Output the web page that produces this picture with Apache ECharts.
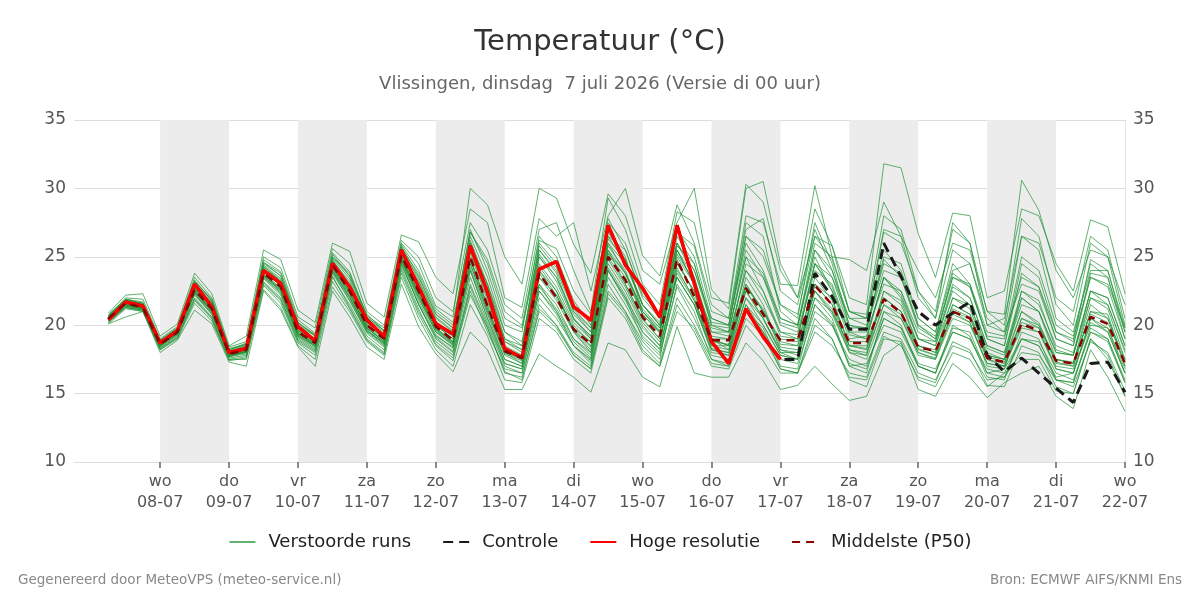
<!DOCTYPE html>
<html><head><meta charset="utf-8">
<script src="https://cdn.jsdelivr.net/npm/echarts@6/dist/echarts.min.js"></script>
<style>html,body{margin:0;padding:0;background:#fff}#c{width:1200px;height:600px}</style>
</head><body><div id="c"></div>
<script>
// Time grid: days relative to 08-07 00:00, 6-hourly samples starting 07-07 06:00
const startDay = -0.75;
const stepDays = 0.25;
const tickDays = [0,1,2,3,4,5,6,7,8,9,10,11,12,13,14];
const tickLabels = ['wo\n08-07','do\n09-07','vr\n10-07','za\n11-07','zo\n12-07','ma\n13-07','di\n14-07','wo\n15-07','do\n16-07','vr\n17-07','za\n18-07','zo\n19-07','ma\n20-07','di\n21-07','wo\n22-07'];
const shadedDays = [[0,1],[2,3],[4,5],[6,7],[8,9],[10,11],[12,13]];

const hogeResolutie = [20.4,21.7,21.4,18.7,19.6,23.0,21.35,18.0,18.3,24.0,23.05,19.9,18.85,24.5,22.8,20.4,19.15,25.5,22.8,20.1,19.35,25.8,22.4,18.3,17.6,24.1,24.65,21.35,20.35,27.3,24.4,22.7,20.6,27.3,23.05,18.8,17.2,21.2,19.15,17.5];
const controle = [20.4,21.7,21.4,18.7,19.6,23.0,21.35,18.0,18.3,24.0,23.05,19.9,18.85,24.5,22.8,20.4,19.15,25.5,22.8,20.1,19.35,25.8,22.4,18.3,17.6,24.1,24.65,21.35,20.35,27.3,24.4,22.7,20.6,27.3,23.05,18.8,17.2,21.2,19.15,17.5,17.5,23.8,22.1,19.7,19.7,26.0,23.55,21.0,20.0,20.9,21.7,17.8,16.6,17.6,16.5,15.4,14.35,17.2,17.3,15.1];
const middelste = [20.5,21.6,21.3,18.6,19.5,22.6,21.2,17.9,18.2,23.8,22.8,19.5,18.7,24.4,22.5,20.0,19.0,25.1,22.5,19.9,18.9,25.0,21.4,18.1,17.6,23.8,22.0,19.7,18.6,25.0,23.3,20.6,19.2,24.8,22.1,18.9,18.9,22.7,20.8,18.9,18.9,22.9,21.5,18.7,18.7,21.9,20.9,18.4,18.1,21.0,20.5,17.6,17.3,20.1,19.6,17.4,17.2,20.6,20.1,17.2];

const ens01 = [20.8,21.9,21.6,18.9,19.8,23.2,21.9,18.3,18.6,24.6,23.8,20.2,19.3,25.2,23.6,20.8,19.6,26.0,24.5,21.4,20.6,30.0,28.8,25.0,23.0,30.0,29.3,25.9,23.8,29.6,28.0,24.0,23.0,27.5,30.0,22.6,21.2,30.0,30.5,24.5,22.0,26.5,25.8,22.0,21.5,31.8,31.5,26.7,23.5,28.2,28.0,22.0,22.5,28.5,28.0,24.5,22.5,27.7,27.2,22.3];
const ens02 = [20.9,22.2,22.3,19.2,20.1,23.8,22.3,18.5,19.2,25.5,24.8,21.1,20.2,26.0,25.4,21.6,20.6,26.6,26.1,23.5,22.3,28.5,27.5,22.0,21.3,27.8,26.5,27.5,22.5,28.0,30.0,25.1,23.6,28.8,26.0,21.5,20.5,28.0,27.5,23.0,22.9,30.2,25.0,24.8,24.0,29.0,26.5,24.0,22.0,26.0,25.5,21.0,20.8,30.6,28.4,24.0,22.0,25.5,25.0,21.5];
const ens03 = [20.7,22.0,21.9,19.0,19.9,23.5,22.0,18.4,18.8,25.0,24.2,20.6,19.8,25.6,24.5,21.0,20.0,26.2,25.0,22.0,21.0,27.5,25.5,21.5,20.5,27.0,27.5,24.0,21.0,29.3,27.0,23.0,21.5,28.3,27.5,22.0,21.6,30.3,29.0,24.0,22.0,28.5,25.8,21.0,20.5,26.8,26.0,22.5,20.5,27.5,26.0,20.0,20.5,26.5,26.0,22.0,21.0,26.5,25.5,20.5];
const ens04 = [20.6,21.8,21.5,18.8,19.7,23.0,21.5,18.1,18.5,24.5,23.6,20.2,19.2,25.0,23.8,20.6,19.6,25.8,23.6,20.8,19.8,27.0,24.0,20.0,19.5,26.5,25.0,21.8,20.0,27.5,26.0,22.5,20.5,27.0,25.0,20.5,20.0,26.5,25.0,21.5,20.5,27.5,24.5,20.0,19.8,25.0,24.5,20.5,19.5,24.5,23.0,19.5,19.2,23.5,22.8,19.5,19.0,23.5,23.0,19.8];
const ens05 = [20.4,21.5,21.2,18.5,19.5,22.4,21.0,17.8,18.2,23.6,22.6,19.5,18.8,24.6,22.8,20.2,19.3,25.4,22.8,20.0,19.2,26.0,22.5,18.8,18.0,25.0,23.5,20.5,19.2,26.5,24.5,21.5,20.0,26.0,23.5,19.5,19.5,25.0,22.5,19.5,19.0,24.5,22.5,19.0,19.2,23.5,22.0,19.0,18.8,23.0,22.0,18.5,18.0,22.0,21.0,18.0,17.8,22.5,22.0,18.5];
const ens06 = [20.5,21.6,21.4,18.6,19.4,22.8,21.3,17.9,18.0,24.0,22.9,19.2,18.5,24.2,22.3,19.8,18.8,24.8,22.0,19.5,18.6,24.5,21.0,18.0,17.5,23.5,21.8,19.5,18.2,25.5,23.0,20.5,19.0,24.5,22.5,19.0,18.5,23.0,21.0,18.8,18.5,23.5,21.8,18.5,18.2,22.5,21.5,18.5,18.0,21.5,20.8,17.8,17.5,21.0,20.0,17.5,17.2,21.5,20.5,17.5];
const ens07 = [20.3,21.4,21.1,18.4,19.3,22.2,20.8,17.7,18.0,23.2,22.0,19.0,18.2,23.8,21.8,19.5,18.5,24.5,21.5,19.2,18.4,24.0,20.5,17.5,17.0,23.0,21.5,19.0,17.8,24.5,22.5,20.0,18.5,23.5,21.5,18.2,18.0,22.0,20.5,18.0,18.0,22.0,21.0,18.0,17.5,21.0,20.5,18.0,17.5,20.5,20.0,17.2,17.0,20.0,19.5,17.0,16.8,20.0,19.8,16.8];
const ens08 = [20.6,21.7,21.5,18.7,19.6,22.9,21.6,18.0,18.4,24.2,23.2,19.8,19.0,24.8,23.0,20.4,19.3,25.2,23.2,20.5,19.5,25.8,22.2,18.5,17.8,24.5,22.8,20.2,19.0,25.8,24.0,21.0,19.5,25.5,23.0,19.2,19.0,24.0,22.0,19.5,19.3,24.0,23.0,19.5,19.5,23.0,22.5,19.5,18.8,22.5,21.5,18.3,17.8,21.5,21.0,18.0,17.8,22.0,21.5,18.2];
const ens09 = [20.2,21.3,21.0,18.3,19.2,22.0,20.6,17.6,17.8,23.0,21.8,18.8,18.0,23.5,21.5,19.2,18.2,24.0,21.0,18.8,17.8,23.0,20.0,17.0,16.5,22.0,20.5,18.5,17.2,23.5,21.5,19.2,18.0,22.8,20.5,17.8,17.5,21.0,19.5,17.5,17.2,21.0,20.0,17.5,17.0,20.5,19.8,17.2,16.8,19.5,19.0,16.8,16.5,19.0,18.8,16.5,16.0,19.5,19.0,16.0];
const ens10 = [20.1,21.2,21.0,18.2,19.0,21.6,20.3,17.5,17.5,22.6,21.3,18.5,17.5,22.8,21.0,18.8,17.8,23.5,20.5,18.2,17.0,21.5,19.2,16.0,15.8,20.5,19.5,17.5,16.5,22.0,20.5,18.0,17.0,21.5,19.5,17.0,16.8,20.0,18.5,16.5,16.5,19.5,18.5,16.5,16.2,19.5,19.0,16.5,16.0,18.5,18.0,16.0,16.2,18.0,17.8,16.0,15.5,18.8,18.0,15.2];
const ens11 = [20.1,20.6,21.0,18.0,18.9,21.1,20.1,17.3,17.0,22.5,21.1,18.4,17.0,22.5,20.6,18.4,17.5,23.0,19.9,17.9,16.6,19.5,18.2,15.3,15.3,17.9,17.0,16.2,15.1,18.7,18.2,16.2,15.5,19.9,16.5,16.2,16.2,18.7,17.4,15.3,15.6,17.0,15.7,14.5,14.8,17.8,18.7,15.3,14.8,17.2,16.2,14.7,15.8,16.5,17.0,14.8,13.9,18.2,16.2,13.7];
const ens12 = [20.5,21.5,21.3,18.6,19.5,22.5,21.2,17.9,18.3,23.9,22.9,19.6,18.8,24.3,22.6,20.0,19.1,25.0,22.8,20.2,19.3,26.5,23.5,19.5,18.5,26.0,24.5,21.0,19.5,27.0,25.0,21.0,19.8,23.5,21.5,18.0,17.8,21.5,20.0,17.8,17.5,22.0,20.5,17.0,17.2,20.0,19.5,17.0,16.5,19.8,19.5,16.5,16.8,19.0,18.5,16.2,16.5,20.5,19.5,16.5];
const ens13 = [20.4,21.6,21.2,18.5,19.4,22.7,21.1,17.8,18.1,23.7,22.7,19.4,18.6,24.0,22.0,19.6,18.6,24.6,21.5,19.0,18.0,22.5,19.5,16.8,16.5,21.5,20.0,18.0,17.0,23.0,21.0,18.8,17.5,24.0,22.0,18.5,18.5,24.5,23.5,20.5,20.0,25.5,23.5,20.5,20.5,25.5,24.0,20.5,19.5,24.0,24.5,20.0,19.5,23.0,22.5,19.0,18.5,23.8,23.5,19.0];
const ens14 = [20.7,21.8,21.6,18.8,19.7,23.1,21.7,18.2,18.6,24.4,23.4,20.0,19.2,24.9,23.4,20.5,19.5,25.5,23.5,20.8,19.8,26.2,23.0,19.5,18.8,25.2,23.5,20.8,19.5,26.0,24.5,21.5,20.0,26.5,24.5,20.0,19.8,27.5,26.5,21.0,20.0,25.0,22.5,19.5,19.0,23.5,22.5,19.0,18.5,22.0,21.5,18.0,17.5,22.5,21.5,18.5,18.0,22.5,22.0,18.5];
const ens15 = [20.3,21.4,21.2,18.5,19.4,22.3,20.9,17.7,18.1,23.5,22.3,19.2,18.4,24.0,22.0,19.6,18.7,24.8,22.0,19.5,18.5,24.8,21.5,18.0,17.2,24.0,22.5,19.5,18.0,24.0,22.0,19.8,18.5,25.5,23.5,19.0,18.2,23.5,21.5,18.2,17.8,23.0,22.0,18.5,18.5,22.0,21.0,18.2,17.8,21.0,20.5,17.5,17.0,20.5,20.0,17.2,17.0,21.0,20.8,17.0];
const ens16 = [20.6,21.7,21.4,18.6,19.6,22.8,21.4,18.0,18.3,24.1,23.0,19.7,18.9,24.6,22.8,20.2,19.2,25.3,22.6,20.0,19.0,25.5,22.0,18.3,17.8,24.0,22.2,19.8,18.8,25.2,23.5,20.8,19.4,24.8,22.3,19.0,19.0,23.0,21.0,19.0,18.8,23.0,21.5,18.8,18.8,22.0,21.0,18.5,18.2,21.2,20.6,17.7,17.3,20.2,19.8,17.5,17.3,20.8,20.2,17.3];
const ens17 = [20.5,21.5,21.3,18.7,19.5,22.6,21.1,17.9,18.2,23.8,22.7,19.4,18.7,24.4,22.5,19.9,18.9,25.0,22.4,19.8,18.8,25.0,21.3,18.0,17.6,23.8,22.0,19.7,18.5,26.5,25.5,22.0,20.5,26.0,24.0,20.5,20.0,26.0,24.0,20.5,20.0,26.0,25.0,21.0,20.5,27.0,26.5,22.0,20.5,25.5,24.5,20.5,19.5,26.5,25.5,20.5,19.5,24.0,24.0,19.5];
const ens18 = [20.4,21.5,21.2,18.5,19.4,22.4,21.0,17.8,18.0,23.5,22.4,19.3,18.5,24.2,22.2,19.7,18.7,24.8,22.2,19.6,18.6,24.5,21.0,17.8,17.2,23.0,21.0,18.5,17.5,24.0,22.0,19.0,17.8,23.0,21.0,17.5,17.0,21.5,19.5,16.8,16.5,20.0,19.0,16.0,15.5,19.0,18.8,16.0,15.5,18.0,17.5,15.5,16.5,17.5,17.5,15.2,15.0,19.0,17.5,14.8];
const ens19 = [20.6,21.8,21.5,18.7,19.6,22.9,21.5,18.1,18.4,24.3,23.3,19.9,19.0,24.7,23.2,20.3,19.4,25.6,23.8,21.0,20.0,26.8,24.5,20.5,19.8,25.5,24.0,21.0,19.8,26.0,23.8,20.8,19.5,25.0,23.0,19.8,19.5,25.5,23.5,20.0,19.5,24.5,23.5,19.8,19.8,24.0,23.5,20.0,19.2,23.5,23.0,19.0,18.5,24.5,23.5,19.5,18.8,24.8,24.0,19.8];
const ens20 = [20.4,21.6,21.3,18.6,19.5,22.5,21.0,17.8,18.1,23.6,22.5,19.4,18.6,24.3,22.4,19.8,18.8,25.0,22.2,19.7,18.7,24.2,20.8,17.5,17.0,22.8,21.2,19.0,18.0,24.8,22.8,20.2,18.8,24.2,21.8,18.5,18.2,22.5,20.5,18.2,18.0,22.5,20.8,18.0,17.8,21.5,20.5,17.8,17.5,20.8,20.2,17.2,17.0,19.8,19.5,16.8,16.5,20.2,19.5,16.5];
const ens21 = [20.6,21.9,21.7,18.9,19.8,23.3,21.8,18.2,18.7,24.8,23.9,20.4,19.4,25.3,23.9,20.7,19.8,25.9,24.0,21.2,20.2,26.8,24.8,21.0,20.0,26.2,25.6,22.5,20.8,27.8,25.5,22.2,20.8,26.8,25.8,21.0,20.5,27.0,27.8,22.5,21.5,27.0,24.0,20.5,20.0,24.5,23.8,20.0,19.0,23.8,22.8,19.2,19.0,25.0,24.0,20.0,19.2,24.5,23.5,19.5];
const ens22 = [20.3,21.3,21.1,18.3,19.1,21.9,20.5,17.5,17.7,23.1,21.9,18.9,18.1,23.6,21.3,19.0,18.0,24.2,21.2,18.6,17.6,22.2,19.8,16.5,16.2,21.0,19.8,17.8,16.8,22.5,21.0,18.5,17.2,22.0,20.0,17.5,17.2,21.0,19.8,17.0,16.8,21.5,20.2,17.0,16.5,21.0,20.0,17.0,16.5,20.0,19.2,16.2,16.0,19.5,19.0,16.0,15.8,19.8,19.0,15.8];
const ens23 = [20.5,21.7,21.4,18.6,19.5,22.7,21.3,17.9,18.3,23.9,22.9,19.6,18.7,24.5,22.7,20.1,19.0,25.0,22.5,19.8,18.8,25.3,21.8,18.2,17.5,24.3,22.5,20.0,18.7,25.0,23.0,20.4,19.0,24.5,22.5,18.8,18.6,22.8,21.2,18.6,18.5,22.5,21.0,18.5,18.3,22.0,21.0,18.3,17.8,21.5,20.8,17.5,17.2,21.0,20.2,17.3,17.0,21.0,20.5,17.0];
const ens24 = [20.4,21.6,21.3,18.6,19.5,22.6,21.1,17.9,18.2,23.7,22.6,19.4,18.6,24.3,22.4,19.8,18.8,24.9,22.3,19.7,18.7,24.8,21.2,17.9,17.4,23.5,22.2,19.6,18.4,25.3,23.8,21.2,19.8,25.8,24.5,20.2,20.0,26.5,25.5,21.5,20.8,26.5,24.8,21.0,20.8,28.0,27.0,22.5,21.0,27.0,26.0,21.0,20.0,27.8,26.5,21.5,20.0,26.0,25.0,20.0];
const ens25 = [20.2,21.3,21.1,18.2,19.1,21.8,20.5,17.4,17.6,22.9,21.6,18.7,17.8,23.2,21.2,18.9,17.9,23.8,20.8,18.5,17.4,22.8,19.8,16.6,16.0,21.2,20.0,17.8,16.8,22.3,20.8,18.2,17.0,21.0,19.8,17.2,17.0,20.5,19.2,16.8,16.5,20.5,19.0,16.2,16.0,19.2,18.5,16.2,15.8,18.8,18.2,15.6,15.5,18.5,18.0,15.5,15.0,19.0,17.8,14.8];
const ens26 = [20.6,21.8,21.5,18.7,19.7,23.0,21.6,18.1,18.5,24.3,23.2,19.8,18.9,24.7,22.9,20.2,19.2,25.4,23.0,20.3,19.3,25.5,22.5,18.8,18.2,25.0,23.2,20.4,19.2,25.5,23.8,21.0,19.6,25.2,23.2,19.5,19.2,24.0,22.5,19.2,19.0,24.5,22.8,19.3,19.0,23.5,22.2,19.0,18.5,22.8,22.0,18.5,18.0,22.5,21.8,18.2,17.8,22.5,21.5,18.0];
const ens27 = [20.4,21.5,21.3,18.5,19.4,22.5,21.0,17.8,18.1,23.6,22.5,19.3,18.5,24.1,22.1,19.6,18.6,24.7,21.8,19.3,18.3,24.0,20.5,17.2,16.8,22.5,21.0,18.8,17.6,24.2,22.2,19.5,18.2,23.8,21.8,18.3,18.0,22.8,21.0,18.4,18.2,22.5,21.2,18.2,18.0,21.5,20.8,18.0,17.6,21.0,20.2,17.0,16.8,20.5,19.8,16.8,16.5,20.5,19.8,16.5];
const ens28 = [20.7,21.9,21.6,18.8,19.7,23.2,21.8,18.2,18.6,24.6,23.6,20.1,19.3,25.0,23.6,20.6,19.6,25.7,23.3,20.6,19.6,26.0,22.8,19.0,18.5,25.8,24.2,21.2,19.8,26.3,24.8,21.5,20.2,26.0,24.0,20.0,19.5,25.0,23.8,20.2,19.8,25.5,24.0,20.0,19.6,24.8,23.5,19.8,19.0,23.5,22.8,19.0,18.5,23.8,22.8,19.0,18.5,23.5,22.8,19.0];
const ens29 = [20.5,21.6,21.4,18.7,19.6,22.8,21.3,18.0,18.3,24.0,23.0,19.6,18.8,24.4,22.7,20.0,19.0,25.2,22.9,20.0,19.0,25.8,23.0,19.0,18.2,25.5,23.8,20.5,19.0,26.8,24.8,21.5,20.0,25.5,23.0,19.0,18.5,22.5,20.5,18.0,17.5,21.5,20.0,17.2,16.8,20.5,19.8,17.0,16.5,19.5,19.0,16.5,16.2,19.0,18.5,16.0,15.8,19.5,18.8,15.8];
const ens30 = [20.3,21.4,21.2,18.4,19.3,22.3,20.8,17.7,17.9,23.4,22.2,19.1,18.3,23.9,21.8,19.4,18.4,24.4,21.6,19.1,18.1,23.5,20.2,17.2,16.8,22.5,20.8,18.5,17.4,24.0,21.8,19.5,18.3,23.5,21.5,18.2,17.8,22.0,20.0,17.8,17.5,23.0,21.5,18.2,17.8,22.5,21.8,18.5,18.0,22.0,21.2,17.8,17.5,22.0,21.0,17.5,17.2,22.0,21.2,17.5];
const ensemble = [ens01,ens02,ens03,ens04,ens05,ens06,ens07,ens08,ens09,ens10,ens11,ens12,ens13,ens14,ens15,ens16,ens17,ens18,ens19,ens20,ens21,ens22,ens23,ens24,ens25,ens26,ens27,ens28,ens29,ens30];

const FONT = 'DejaVu Sans';
const toXY = arr => arr.map((v, i) => [startDay + i * stepDays, v]);

const series = [];
series.push({
  name: 'bands', type: 'line', data: [], silent: true, symbol: 'none',
  markArea: { silent: true, itemStyle: { color: '#ececec' },
    data: shadedDays.map(d => [{ xAxis: d[0] }, { xAxis: d[1] }]) }
});
ensemble.forEach(m => series.push({
  name: 'Verstoorde runs', type: 'line', data: toXY(m), symbol: 'none', silent: true,
  lineStyle: { color: '#1f9136', width: 1, opacity: 0.7 }, itemStyle: { color: '#1f9136' }, z: 2
}));
series.push({ name: 'Controle', type: 'line', data: toXY(controle), symbol: 'none', z: 3,
  lineStyle: { color: '#1a1a1a', width: 3, type: [10, 6] }, itemStyle: { color: '#1a1a1a' } });
series.push({ name: 'Hoge resolutie', type: 'line', data: toXY(hogeResolutie), symbol: 'none', z: 4,
  lineStyle: { color: '#ff0000', width: 3.5 }, itemStyle: { color: '#ff0000' } });
series.push({ name: 'Middelste (P50)', type: 'line', data: toXY(middelste), symbol: 'none', z: 5,
  lineStyle: { color: '#8b0000', width: 2.5, type: [8, 6] }, itemStyle: { color: '#8b0000' } });

const chart = echarts.init(document.getElementById('c'));
chart.setOption({
  animation: false,
  backgroundColor: '#fff',
  textStyle: { fontFamily: FONT },
  title: [
    { text: 'Temperatuur (°C)', left: 'center', top: 28, padding: 0,
      textStyle: { fontFamily: FONT, fontSize: 29, fontWeight: 'normal', color: '#333' } },
    { text: 'Vlissingen, dinsdag  7 juli 2026 (Versie di 00 uur)', left: 'center', top: 75, padding: 0,
      textStyle: { fontFamily: FONT, fontSize: 18, fontWeight: 'normal', color: '#666' } }
  ],
  grid: { left: 74, right: 75, top: 120, bottom: 138, containLabel: false },
  xAxis: {
    type: 'value', min: -1.25, max: 14,
    axisLine: { show: true, lineStyle: { color: '#dddddd' } },
    axisTick: { show: true, customValues: tickDays, length: 6, lineStyle: { color: '#666', width: 1.5 } },
    axisLabel: { customValues: tickDays, formatter: v => tickLabels[Math.round(v)], color: '#555',
      fontFamily: FONT, fontSize: 16, lineHeight: 21, margin: 9 },
    splitLine: { show: false }
  },
  yAxis: [
    { type: 'value', min: 10, max: 35, interval: 5, position: 'left',
      axisLabel: { color: '#555', fontFamily: FONT, fontSize: 17, margin: 8 },
      axisLine: { show: false }, axisTick: { show: false },
      splitLine: { show: true, lineStyle: { color: '#dddddd' } } },
    { type: 'value', min: 10, max: 35, interval: 5, position: 'right',
      axisLabel: { color: '#555', fontFamily: FONT, fontSize: 17, margin: 8 },
      axisLine: { show: true, lineStyle: { color: '#e4e4e4' } }, axisTick: { show: false },
      splitLine: { show: false } }
  ],
  legend: {
    data: ['Verstoorde runs', 'Controle', 'Hoge resolutie', 'Middelste (P50)'],
    left: 'center', top: 528, itemWidth: 26, itemHeight: 14, itemGap: 31,
    itemStyle: { opacity: 0 },
    textStyle: { fontFamily: FONT, fontSize: 18, color: '#222', padding: [0, 0, 0, 8] }
  },
  graphic: [
    { type: 'text', left: 18, top: 573, style: { text: 'Gegenereerd door MeteoVPS (meteo-service.nl)', fill: '#888', font: '13.5px "DejaVu Sans"' } },
    { type: 'text', right: 18, top: 573, style: { text: 'Bron: ECMWF AIFS/KNMI Ens', fill: '#888', font: '13.5px "DejaVu Sans"' } }
  ],
  series: series
});
</script></body></html>
